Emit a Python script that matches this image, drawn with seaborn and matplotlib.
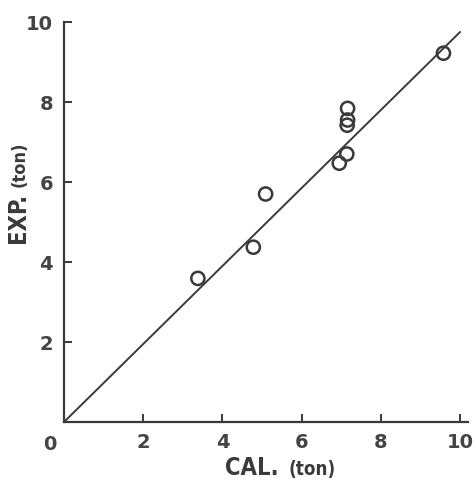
import matplotlib
matplotlib.use('Agg')
import matplotlib.pyplot as plt
import seaborn as sns
import pandas as pd
from matplotlib import font_manager

# values
cal_ton = [3.38, 4.78, 5.09, 6.95, 7.14, 7.15, 7.16, 7.16, 9.58]
exp_ton = [3.59, 4.37, 5.70, 6.47, 6.70, 7.42, 7.55, 7.84, 9.22]
fit_x = [0, 10]
fit_y = [0, 9.75]
tick_vals = [2, 4, 6, 8, 10]

pts = pd.DataFrame({'CAL': cal_ton, 'EXP': exp_ton})
fit = pd.DataFrame({'x': fit_x, 'y': fit_y})

sns.set_style('ticks')
plt.rcParams['font.family'] = ['DejaVu Sans']
ink = '#3a3a3a'

# pick a narrow face if one is around
names = {f.name for f in font_manager.fontManager.ttflist}
narrow = [n for n in ['Liberation Sans Narrow', 'DejaVu Sans Condensed'] if n in names]
narrow = narrow + ['DejaVu Sans']

fig = plt.figure(figsize=(4.76, 4.84), dpi=100)
ax = fig.add_axes([64/476, 62/484, 404/476, 400/484])

sns.lineplot(data=fit, x='x', y='y', color=ink, linewidth=1.4, ax=ax)
sns.scatterplot(data=pts, x='CAL', y='EXP', ax=ax, s=90, marker='o',
                facecolor='none', edgecolor=ink, linewidth=1.8, zorder=3)

ax.set_xlim(0, 10.2)
ax.set_ylim(0, 10)
ax.set_xticks(tick_vals)
ax.set_yticks(tick_vals)
ax.set_xticklabels([str(v) for v in tick_vals])
ax.set_yticklabels([str(v) for v in tick_vals])
ax.tick_params(direction='in', length=6, width=1.4, colors=ink,
               labelsize=14, pad=8)
for lab in ax.get_xticklabels() + ax.get_yticklabels():
    lab.set_fontweight('bold')
    lab.set_color('#444444')

for s in ['top', 'right']:
    ax.spines[s].set_visible(False)
for s in ['left', 'bottom']:
    ax.spines[s].set_color(ink)
    ax.spines[s].set_linewidth(1.6)

ax.set_xlabel('')
ax.set_ylabel('')

# origin label shared by both axes
fig.text(50/476, 1 - 445/484, '0', ha='center', va='center',
         fontsize=14, fontweight='bold', color='#444444')

fig.text(225/476, 1 - 468/484, 'CAL.', ha='left', va='center',
         fontsize=17, fontweight='bold', family=narrow, stretch='condensed', color=ink)
fig.text(289/476, 1 - 470/484, '(ton)', ha='left', va='center',
         fontsize=13.5, fontweight='bold', family=narrow, stretch='condensed', color=ink)
fig.text(18/476, 1 - 218/484, 'EXP.', ha='center', va='center', rotation=90,
         fontsize=17, fontweight='bold', family=narrow, stretch='condensed', color=ink)
fig.text(20/476, 1 - 164/484, '(ton)', ha='center', va='center', rotation=90,
         fontsize=13, fontweight='bold', family=narrow, stretch='condensed', color=ink)

fig.savefig('out.png', dpi=100)
